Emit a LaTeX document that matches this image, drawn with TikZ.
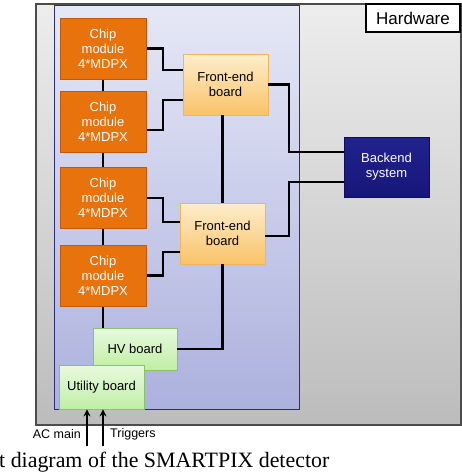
\documentclass[tikz,border=0pt]{standalone}
\usepackage{fontspec}
\setmainfont{Liberation Sans}
\newfontfamily\capfont{Liberation Serif}
\usetikzlibrary{arrows.meta}
\definecolor{chipor}{HTML}{E8720C}
\definecolor{chipbd}{HTML}{C4580A}
\definecolor{fetop}{HTML}{FDEDCB}
\definecolor{febot}{HTML}{F9C368}
\definecolor{febd}{HTML}{EFB65E}
\definecolor{grtop}{HTML}{E8FADD}
\definecolor{grbot}{HTML}{C0EEA6}
\definecolor{grbd}{HTML}{86C46A}
\definecolor{betop}{HTML}{22228E}
\definecolor{bebot}{HTML}{16167A}
\definecolor{bebd}{HTML}{0E0E5C}
\definecolor{bltop}{HTML}{E6E8F6}
\definecolor{blbot}{HTML}{ACB1DE}
\definecolor{blbd}{HTML}{2A2F7A}
\definecolor{gytop}{HTML}{EDEDED}
\definecolor{gybot}{HTML}{BCBCBC}
\begin{document}
\begin{tikzpicture}[x=1pt,y=-1pt,
  boxtext/.style={font=\fontsize{13}{15}\selectfont, align=center, inner sep=0pt},
  chip/.style={boxtext, draw=chipbd, line width=1pt, fill=chipor, text=white, minimum width=86pt, minimum height=61pt},
  feb/.style={boxtext, draw=febd, line width=0.8pt, top color=fetop, bottom color=febot, minimum width=85pt, minimum height=61pt},
  grb/.style={boxtext, draw=grbd, line width=0.8pt, top color=grtop, bottom color=grbot},
  beb/.style={boxtext, draw=bebd, line width=0.8pt, top color=betop, bottom color=bebot, text=white, minimum width=85pt, minimum height=60pt},
  wire/.style={line width=2.6pt, black},
  arr/.style={line width=2.4pt, black, -{Stealth[length=7pt,width=7pt]}},
  lbl/.style={font=\fontsize{12.5}{14}\selectfont, inner sep=0pt}
]
\useasboundingbox (0,0) rectangle (462,474);
% outer hardware frame
\draw[draw=gray!60!black, line width=1.4pt, top color=gytop, bottom color=gybot] (36,4) rectangle (461,425);
% detector box
\draw[draw=blbd, line width=0.9pt, top color=bltop, bottom color=blbot] (54,5) rectangle (299,409);
\node[draw=black, line width=2.2pt, fill=white, minimum width=94pt, minimum height=28pt, inner sep=0pt, font=\fontsize{17}{19}\selectfont] (hw) at (413,18) {Hardware};

\coordinate (xa) at (163,0);
\coordinate (xb) at (289,0);

\node[chip] (m1) at (103,48.5) {Chip\\module\\4*MDPX};
\node[chip] (m2) at (103,121.5) {Chip\\module\\4*MDPX};
\node[chip] (m3) at (103,198) {Chip\\module\\4*MDPX};
\node[chip] (m4) at (103,275.5) {Chip\\module\\4*MDPX};
\node[feb] (fe1) at (225.5,84.5) {Front-end\\board};
\node[feb] (fe2) at (222.5,233.5) {Front-end\\board};
\node[beb] (be) at (386.5,167) {Backend\\system};

\draw[wire] (m1.south) -- (m2.north);
\draw[wire] (m2.south) -- (m3.north);
\draw[wire] (m3.south) -- (m4.north);
\draw[wire] (m1.east) -- (m1.east -| xa) |- ([yshift=14.5pt]fe1.west);
\draw[wire] ([yshift=-8.5pt]m2.east) -- ([yshift=-8.5pt]m2.east -| xa) |- ([yshift=-15.5pt]fe1.west);
\draw[wire] (m3.east) -- (m3.east -| xa) |- ([yshift=11.5pt]fe2.west);
\draw[wire] (m4.east) -- (m4.east -| xa) |- ([yshift=-18.5pt]fe2.west);
\draw[wire] (fe2.north |- fe1.south) -- (fe2.north);
\draw[wire] (fe1.east) -- (fe1.east -| xb) |- ([yshift=15pt]be.west);
\draw[wire] ([yshift=-2.5pt]fe2.east) -- ([yshift=-2.5pt]fe2.east -| xb) |- ([yshift=-15pt]be.west);

\node[grb, minimum width=84pt, minimum height=42pt] (hv) at (135,349) {HV board};
\draw[wire] (m4.south) -- (m4.south |- hv.north);
\draw[wire] (fe2.south) -- (fe2.south |- hv.east) -- (hv.east);
\node[grb, minimum width=85pt, minimum height=44pt] (ut) at (101.5,387) {Utility board};

\coordinate (ac) at (87,446);
\coordinate (tr) at (103,446);
\draw[arr] (ac) -- (ac |- ut.south);
\draw[arr] (tr) -- (tr |- ut.south);
\node[lbl, anchor=east] (acl) at (81,434) {AC main};
\node[lbl, anchor=west] (trl) at (110,434) {Triggers};

\node[anchor=base west, inner sep=0pt, font=\capfont\fontsize{21.9}{24}\selectfont] (cap) at (-1,467) {t diagram of the SMARTPIX detector};
\end{tikzpicture}
\end{document}
